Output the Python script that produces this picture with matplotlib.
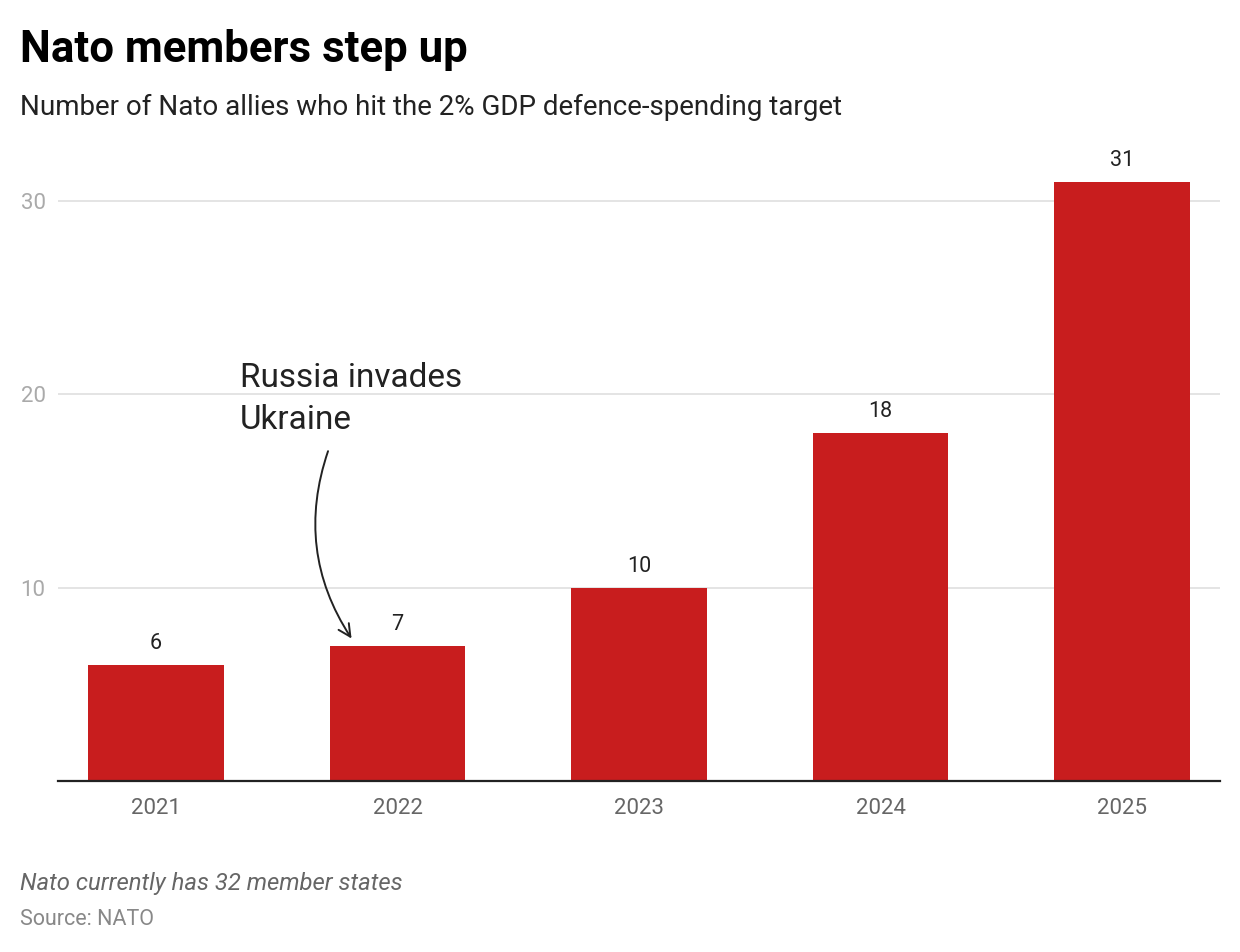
import matplotlib.pyplot as plt

plt.rcParams['font.family'] = ['Roboto', 'DejaVu Sans']

years = ['2021', '2022', '2023', '2024', '2025']
allies = [6, 7, 10, 18, 31]
yticks = [10, 20, 30]

bar_color = '#c81d1e'

fig = plt.figure(figsize=(12.4, 9.52), dpi=100)
ax = fig.add_axes([58/1240, 171/952, 1162/1240, 0.670])

x = range(len(years))
ax.bar(x, allies, width=0.56, color=bar_color, zorder=3)

for i, v in enumerate(allies):
    ax.annotate(str(v), (i, v), xytext=(0, 8), textcoords='offset points',
                ha='center', va='bottom', fontsize=15.5, color='#222222')

ax.set_xlim(-0.406, 4.406)
ax.set_ylim(0, 33)
ax.set_xticks(list(x))
ax.set_xticklabels(years)
ax.set_yticks(yticks)
ax.grid(axis='y', color='#e2e2e2', linewidth=1.3, zorder=0)
ax.tick_params(axis='x', length=0, pad=12, labelsize=16, labelcolor='#666666')
ax.tick_params(axis='y', length=0, pad=9, labelsize=16, labelcolor='#aaaaaa')
for s in ['top', 'right', 'left']:
    ax.spines[s].set_visible(False)
ax.spines['bottom'].set_color('#222222')
ax.spines['bottom'].set_linewidth(1.6)
ax.spines['bottom'].set_zorder(4)

# annotation for 2022
ax.text(0.348, 21.7, 'Russia invades\nUkraine', fontsize=24, color='#222222',
        va='top', ha='left', linespacing=1.4)
ax.annotate('', xy=(0.816, allies[1] + 0.25), xytext=(0.716, 17.2),
            arrowprops=dict(arrowstyle='->', color='#222222', lw=1.4,
                            mutation_scale=22,
                            connectionstyle='arc3,rad=0.25'))

fig.text(20/1240, 1 - 62/952, 'Nato members step up', fontsize=31.5,
         fontweight='bold', color='#000000', va='baseline')
fig.text(20/1240, 1 - 115/952,
         'Number of Nato allies who hit the 2% GDP defence-spending target',
         fontsize=20, color='#222222', va='baseline')
fig.text(20/1240, 1 - 890/952, 'Nato currently has 32 member states',
         fontsize=17.2, style='italic', color='#666666', va='baseline')
fig.text(20/1240, 1 - 925/952, 'Source: NATO', fontsize=15.5,
         color='#888888', va='baseline')

fig.savefig('out.png', dpi=100, facecolor='white')
